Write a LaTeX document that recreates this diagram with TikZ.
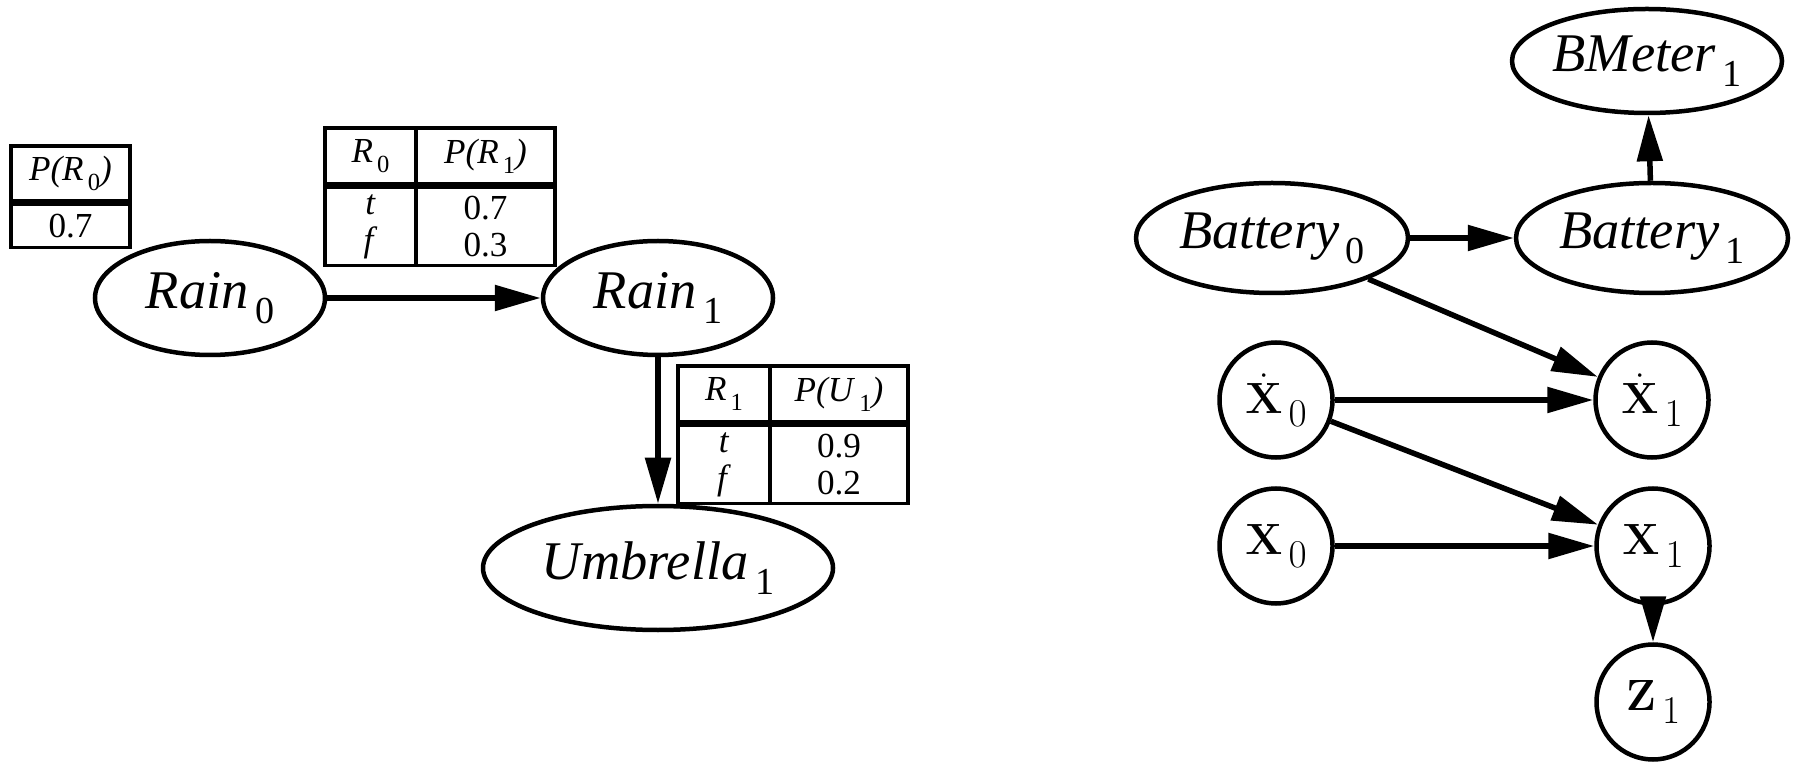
\documentclass[tikz,border=0pt]{standalone}
\usepackage[no-math]{fontspec}
\setmainfont{Liberation Serif}
\usetikzlibrary{arrows.meta,positioning,shapes.geometric}

% lowered, smaller index after a variable name
\newcommand\dn[1]{\hspace{0.12em}\raisebox{-0.28em}{\scalebox{0.7}{\upshape #1}}}
% index of a state vector, almost as large as the vector itself
\newcommand\vdn[1]{\hspace{0.14em}\raisebox{-0.3em}{\scalebox{0.9}{$#1$}}}

\begin{document}
\begin{tikzpicture}[
    >={Triangle[length=0.92cm,width=0.5cm]},
    rv/.style={ellipse, draw, line width=0.09cm, inner sep=0pt,
      font=\fontsize{31}{36}\selectfont},
    vec/.style={ellipse, draw, line width=0.09cm, inner sep=0pt,
      minimum width=2.26cm, minimum height=2.3cm, font=\fontsize{25}{30}\selectfont},
    link/.style={->, line width=0.11cm},
    cpt/.style={draw, line width=0.07cm, inner sep=0pt, outer sep=0pt,
      align=center, font=\fontsize{20}{21}\selectfont},
  ]
  \useasboundingbox (0,0) rectangle (36.06,15.44);

  % umbrella network
  \node[rv, minimum width=4.6cm, minimum height=2.28cm] (rain0) at (4.2,9.48)
    {\textit{Rain}\dn{0}};
  \node[rv, minimum width=4.6cm, minimum height=2.28cm] (rain1) at (13.16,9.48)
    {\textit{Rain}\dn{1}};
  \node[rv, minimum width=7.0cm, minimum height=2.48cm] (umb1) at (13.16,4.08)
    {\textit{Umbrella}\dn{1}};

  % conditional probability tables
  \node[cpt, minimum width=2.38cm, minimum height=1.1cm, anchor=north west]
    (pr0h) at (0.22,12.52) {\textit{P(R}\dn{0}\textit{)}};
  \node[cpt, minimum width=2.38cm, minimum height=0.86cm,
    below right=0.07cm and 0cm of pr0h.south west] (pr0b) {0.7};

  \node[cpt, minimum width=1.82cm, minimum height=1.12cm, anchor=north west]
    (pr1h) at (6.5,12.88) {\textit{R}\dn{0}};
  \node[cpt, minimum width=2.78cm, minimum height=1.12cm, right=0pt of pr1h]
    (pr1hp) {\textit{P(R}\dn{1}\textit{)}};
  \node[cpt, minimum width=1.82cm, minimum height=1.56cm,
    below right=0.07cm and 0cm of pr1h.south west] (pr1b) {\textit{t}\\\textit{f}};
  \node[cpt, minimum width=2.78cm, minimum height=1.56cm, right=0pt of pr1b]
    (pr1bp) {0.7\\0.3};

  \node[cpt, minimum width=1.84cm, minimum height=1.12cm, anchor=north west]
    (pu1h) at (13.56,8.12) {\textit{R}\dn{1}};
  \node[cpt, minimum width=2.76cm, minimum height=1.12cm, right=0pt of pu1h]
    (pu1hp) {\textit{P(U}\dn{1}\textit{)}};
  \node[cpt, minimum width=1.84cm, minimum height=1.56cm,
    below right=0.07cm and 0cm of pu1h.south west] (pu1b) {\textit{t}\\\textit{f}};
  \node[cpt, minimum width=2.76cm, minimum height=1.56cm, right=0pt of pu1b]
    (pu1bp) {0.9\\0.2};

  \draw[link] (rain0) -- (rain1);
  \draw[link] (rain1) -- (umb1);

  % robot network
  \node[rv, minimum width=5.4cm, minimum height=2.08cm] (bmeter1) at (32.94,14.22)
    {\textit{BMeter}\dn{1}};
  \node[rv, minimum width=5.44cm, minimum height=2.2cm] (bat0) at (25.44,10.68)
    {\textit{Battery}\dn{0}};
  \node[rv, minimum width=5.44cm, minimum height=2.2cm] (bat1) at (33.04,10.68)
    {\textit{Battery}\dn{1}};
  \node[vec] (xd0) at (25.52,7.44) {$\dot{\mathbf{X}}$\vdn{0}};
  \node[vec] (xd1) at (33.04,7.44) {$\dot{\mathbf{X}}$\vdn{1}};
  \node[vec] (x0) at (25.52,4.52) {$\mathbf{X}$\vdn{0}};
  \node[vec] (x1) at (33.06,4.52) {$\mathbf{X}$\vdn{1}};
  \node[vec] (z1) at (33.06,1.4) {$\mathbf{Z}$\vdn{1}};

  \draw[link] (bat1) -- (bmeter1);
  \draw[link] (bat0) -- (bat1);
  \draw[link] (bat0) -- (xd1);
  \draw[link] (xd0) -- (xd1);
  \draw[link] (xd0) -- (x1);
  \draw[link] (x0) -- (x1);
  \draw[link] (x1) -- (z1);
\end{tikzpicture}
\end{document}
